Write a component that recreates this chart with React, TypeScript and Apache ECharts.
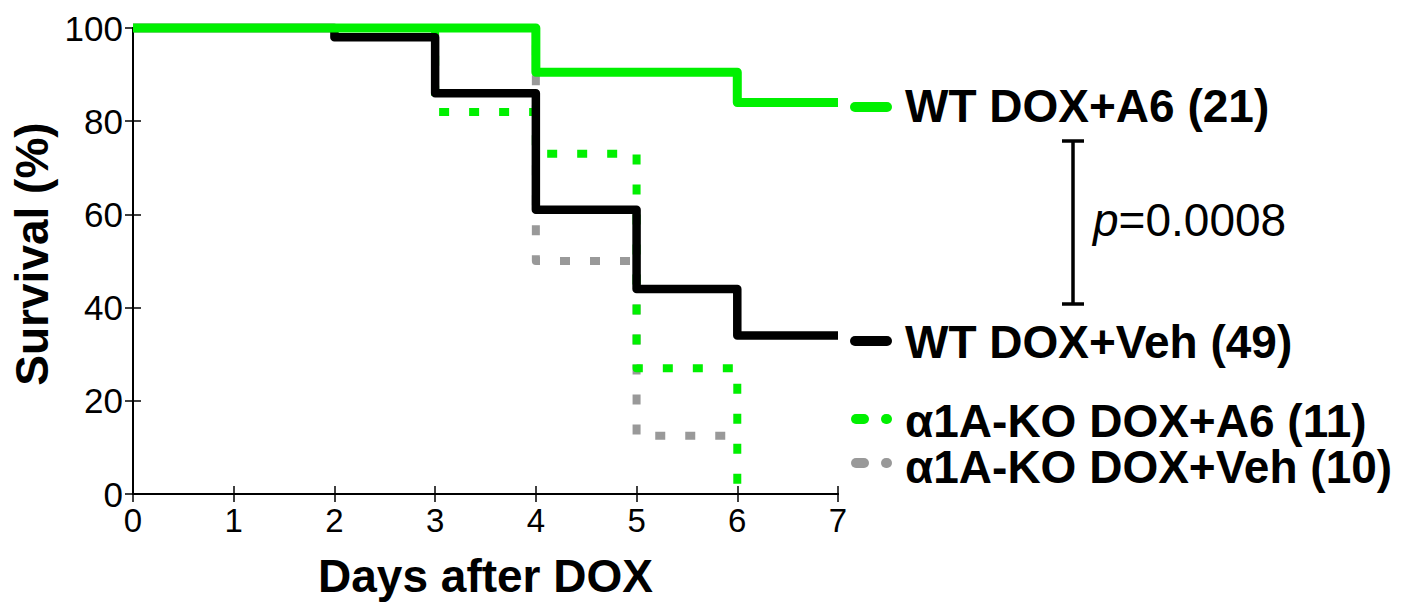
import React, { useEffect, useRef } from "react";
import * as echarts from "echarts";

const FONT = '"Liberation Sans", Arial, Helvetica, sans-serif';

// Kaplan–Meier steps (day of event, survival % after it)
const wtA6Days = [0, 4, 6, 7];
const wtA6Surv = [100, 90.5, 84, 84];
const wtVehDays = [0, 2, 3, 4, 5, 6, 7];
const wtVehSurv = [100, 98, 86, 61, 44, 34, 34];
const koA6Days = [0, 3, 4, 5, 6];
const koA6Surv = [100, 82, 73, 27, 0];
const koVehDays = [0, 4, 5, 6];
const koVehSurv = [100, 50, 12.5, 12.5];

const seriesNames = [
  "WT DOX+A6 (21)",
  "WT DOX+Veh (49)",
  "α1A-KO DOX+A6 (11)",
  "α1A-KO DOX+Veh (10)",
];
const pValueText = "=0.0008";

const xTicks = [0, 1, 2, 3, 4, 5, 6, 7];
const yTicks = [0, 20, 40, 60, 80, 100];

const GREEN = "#00f000";
const GRAY = "#999999";

const pairs = (d: number[], s: number[]) => d.map((x, i) => [x, s[i]]);

export default function App() {
  const ref = useRef<HTMLDivElement>(null);
  useEffect(() => {
    if (!ref.current) return;
    const chart = echarts.init(ref.current, null, { renderer: "svg" });
    const axisCommon = {
      type: "value" as const,
      axisLine: { show: true, lineStyle: { color: "#000", width: 2 } },
      axisTick: { show: true, inside: true, length: 8, lineStyle: { color: "#000", width: 1.5 } },
      splitLine: { show: false },
    };
    const lineSeries = (name: string, data: number[][], color: string, width: number, dashed: boolean) => ({
      type: "line",
      name,
      data,
      step: "end",
      symbol: "none",
      clip: false,
      lineStyle: {
        color,
        width,
        type: dashed ? [10, 20] : "solid",
        cap: "butt",
        join: "round",
      },
    });
    const legendText = (text: string, y: number) => ({
      type: "text",
      x: 905,
      y,
      style: {
        text,
        fill: "#000",
        fontFamily: FONT,
        fontSize: 46,
        fontWeight: "bold",
        lineHeight: 40,
        align: "left",
        verticalAlign: "middle",
      },
    });
    chart.setOption({
      animation: false,
      backgroundColor: "#fff",
      grid: { left: 133, right: 572, top: 28, bottom: 106, containLabel: false },
      xAxis: [
        {
          ...axisCommon,
          min: 0,
          max: 7,
          interval: 1,
          position: "bottom",
          axisLabel: {
            show: true,
            margin: 10,
            color: "#000",
            fontFamily: FONT,
            fontSize: 33,
            customValues: xTicks,
          },
          name: "Days after DOX",
          nameLocation: "middle",
          nameGap: 59,
          nameTextStyle: { color: "#000", fontFamily: FONT, fontSize: 46, fontWeight: "bold" },
        },
        {
          ...axisCommon,
          min: 0,
          max: 7,
          interval: 1,
          position: "top",
          axisLabel: { show: false },
        },
      ],
      yAxis: [
        {
          ...axisCommon,
          min: 0,
          max: 100,
          interval: 20,
          position: "left",
          axisLabel: {
            show: true,
            margin: 10,
            color: "#000",
            fontFamily: FONT,
            fontSize: 35,
            customValues: yTicks,
          },
          name: "Survival (%)",
          nameLocation: "middle",
          nameGap: 78,
          nameTextStyle: {
            color: "#000",
            fontFamily: FONT,
            fontSize: 46,
            fontWeight: "bold",
            padding: [0, 0, 0, 14],
          },
        },
        {
          ...axisCommon,
          min: 0,
          max: 100,
          interval: 20,
          position: "right",
          axisLabel: { show: false },
        },
      ],
      series: [
        lineSeries(seriesNames[3], pairs(koVehDays, koVehSurv), GRAY, 8, true),
        lineSeries(seriesNames[2], pairs(koA6Days, koA6Surv), GREEN, 8, true),
        lineSeries(seriesNames[1], pairs(wtVehDays, wtVehSurv), "#000", 8.5, false),
        lineSeries(seriesNames[0], pairs(wtA6Days, wtA6Surv), GREEN, 9, false),
      ],
      graphic: [
        // legend symbols
        { type: "line", shape: { x1: 855, y1: 107, x2: 887, y2: 107 }, style: { stroke: GREEN, lineWidth: 10, lineCap: "round" } },
        { type: "line", shape: { x1: 855, y1: 341, x2: 887, y2: 341 }, style: { stroke: "#000", lineWidth: 10, lineCap: "round" } },
        { type: "line", shape: { x1: 856, y1: 419, x2: 864, y2: 419 }, style: { stroke: GREEN, lineWidth: 10, lineCap: "round" } },
        { type: "line", shape: { x1: 886, y1: 419, x2: 887, y2: 419 }, style: { stroke: GREEN, lineWidth: 10, lineCap: "round" } },
        { type: "line", shape: { x1: 856, y1: 463, x2: 864, y2: 463 }, style: { stroke: GRAY, lineWidth: 10, lineCap: "round" } },
        { type: "line", shape: { x1: 886, y1: 463, x2: 887, y2: 463 }, style: { stroke: GRAY, lineWidth: 10, lineCap: "round" } },
        legendText(seriesNames[0], 106),
        legendText(seriesNames[1], 342),
        legendText(seriesNames[2], 421),
        legendText(seriesNames[3], 467),
        // significance bracket
        { type: "line", shape: { x1: 1073, y1: 141, x2: 1073, y2: 304 }, style: { stroke: "#000", lineWidth: 3.5 } },
        { type: "line", shape: { x1: 1062, y1: 141, x2: 1084, y2: 141 }, style: { stroke: "#000", lineWidth: 3.5 } },
        { type: "line", shape: { x1: 1062, y1: 304, x2: 1084, y2: 304 }, style: { stroke: "#000", lineWidth: 3.5 } },
        {
          type: "text",
          x: 1093,
          y: 220,
          style: {
            text: "{i|p}" + pValueText,
            fill: "#000",
            fontFamily: FONT,
            fontSize: 46,
            align: "left",
            verticalAlign: "middle",
            rich: {
              i: { fontStyle: "italic", fontFamily: FONT, fontSize: 46, fill: "#000" },
            },
          },
        },
      ],
    });
    return () => chart.dispose();
  }, []);
  return (
    <div
      ref={ref}
      style={{ position: "fixed", left: 0, top: 0, width: 1410, height: 604, background: "#fff" }}
    />
  );
}
